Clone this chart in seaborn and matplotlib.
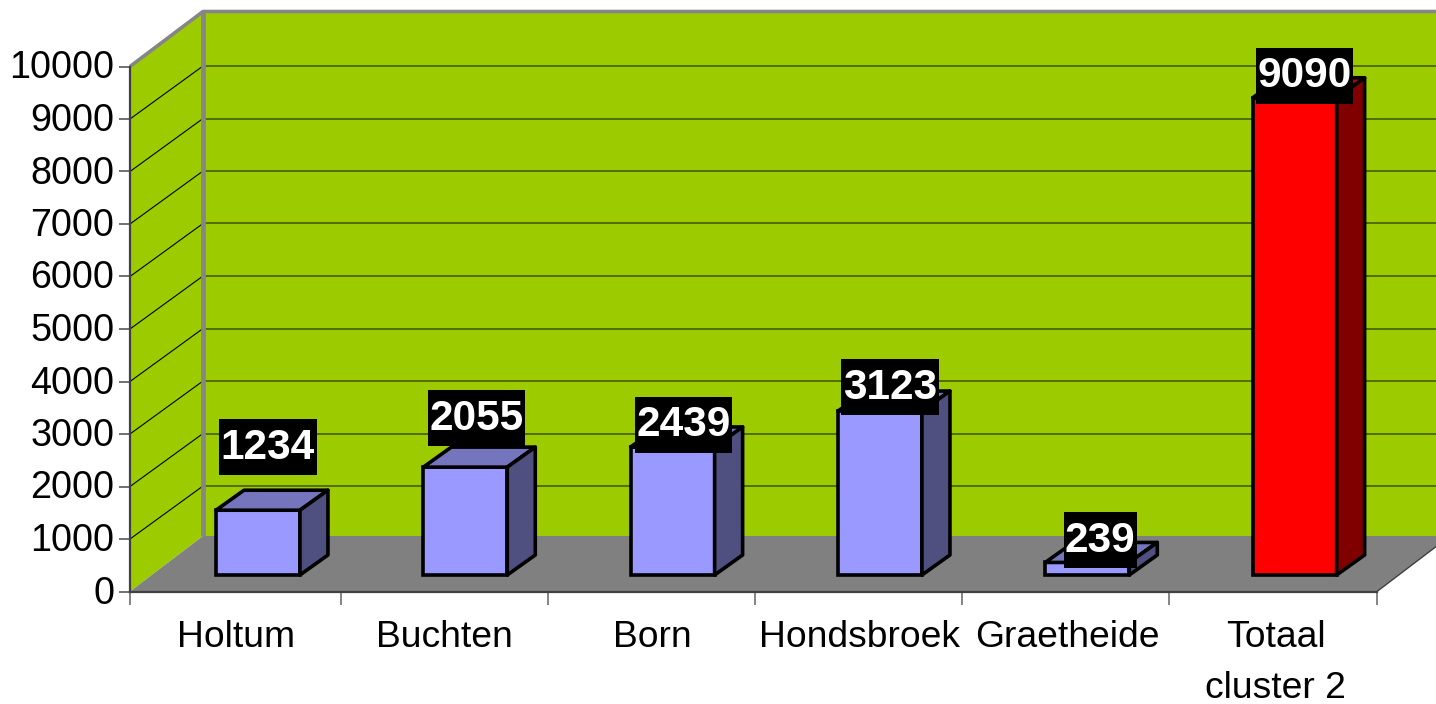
import matplotlib
matplotlib.use("Agg")
import matplotlib.pyplot as plt
import seaborn as sns
from matplotlib.patches import Polygon, Rectangle
from matplotlib.transforms import Affine2D, IdentityTransform

# data
categories = ["Holtum", "Buchten", "Born", "Hondsbroek", "Graetheide", "Totaal\ncluster 2"]
values = [1234, 2055, 2439, 3123, 239, 9090]
bar_colors = ["#9999ff", "#9999ff", "#9999ff", "#9999ff", "#9999ff", "#ff0000"]
top_colors = ["#7575bd", "#7575bd", "#7575bd", "#7575bd", "#7575bd", "#c00000"]
side_colors = ["#4f4f80", "#4f4f80", "#4f4f80", "#4f4f80", "#4f4f80", "#800000"]
y_ticks = list(range(0, 10001, 1000))
x_edges = [-0.5, 0.515, 1.51, 2.505, 3.505, 4.5, 5.5]

# label placement, pixels from the middle of the bar top
label_dx = [10, 11, 11, 10, 13, 10]
label_dy = [63, 49, 22, 24, 22, 22]

W, H = 1436, 704
BACK_X, BACK_Y = 73, 55      # depth of the chart box
FLOOR_BACK_Y = 55.5
GRID_BACK_Y = 53             # grid lines meet the back wall a little lower
DEPTH_X, DEPTH_Y = 28, 20    # depth of each bar
BAR_LW = 2.6
GREEN = "#9ccc00"
FLOOR = "#808080"

sns.set_theme(style="white")
plt.rcParams["font.family"] = ["Liberation Sans", "DejaVu Sans"]

fig = plt.figure(figsize=(W / 100, H / 100), dpi=100, facecolor="white")
ax = fig.add_axes([130 / W, (H - 591.5) / H, 1247 / W, 525 / H])
# bars stand a bit behind the front edge, so they get their own slightly narrower axes
bar_ax = fig.add_axes([154.3 / W, (H - 575) / H, 1244 / W, 525 / H])
ax.set_zorder(1)
bar_ax.set_zorder(2)
ax.patch.set_visible(False)
bar_ax.patch.set_visible(False)

ax.set_xlim(-0.5, 5.5)
ax.set_ylim(0, 10000)


def px(axis, x, y):
    return axis.transData.transform((x, y))


def draw_poly(axis, points, **kw):
    axis.add_patch(Polygon(points, closed=True, transform=IdentityTransform(), clip_on=False, **kw))


def draw_line(points, color, lw, zorder):
    xs = [p[0] for p in points]
    ys = [p[1] for p in points]
    ax.plot(xs, ys, color=color, lw=lw, transform=IdentityTransform(), clip_on=False,
            zorder=zorder, solid_capstyle="butt", scalex=False, scaley=False)


back = (BACK_X, BACK_Y)
grid_back = (BACK_X, GRID_BACK_Y)
floor_back = (BACK_X, FLOOR_BACK_Y)
fl = px(ax, -0.5, 0)
tl = px(ax, -0.5, 10000)
fr = px(ax, 5.5, 0)
bl = fl + floor_back
tb = tl + back
br = fr + floor_back
tr = px(ax, 5.5, 10000) + back

# walls and floor
draw_poly(ax, [bl, tb, tr, br], facecolor=GREEN, edgecolor="none", zorder=0.1)
draw_poly(ax, [fl, tl, tb, bl], facecolor=GREEN, edgecolor="none", zorder=0.1)

# grid, runs along the side wall and then the back wall
for t in y_ticks[1:-1]:
    front = px(ax, -0.5, t)
    draw_line([front, front + grid_back], "black", 0.8, 0.3)
    draw_line([front + grid_back, px(ax, 5.5, t) + grid_back], "#4d6600", 1.3, 0.3)

draw_poly(ax, [fl, bl, br, fr], facecolor=FLOOR, edgecolor="none", zorder=0.4)
draw_line([tl, tb, tr], "#868686", 2.6, 0.5)
draw_line([tb, bl], "#868686", 3.4, 0.5)
draw_line([fr, br], "#404040", 1.0, 0.5)

# bars
sns.barplot(x=categories, y=values, hue=categories, palette=bar_colors, dodge=False,
            width=0.405, saturation=1, legend=False, edgecolor="black", linewidth=BAR_LW,
            ax=bar_ax, zorder=3)
bar_ax.set_xlim(-0.5, 5.5)
bar_ax.set_ylim(0, 10000)
bar_ax.axis("off")

bars = sorted([b for b in bar_ax.patches if b.get_height() > 0], key=lambda b: b.get_x())
depth = (DEPTH_X, DEPTH_Y)
for i, b in enumerate(bars):
    b.set_clip_on(False)
    x0, x1, h = b.get_x(), b.get_x() + b.get_width(), b.get_height()
    p_tl = px(bar_ax, x0, h)
    p_tr = px(bar_ax, x1, h)
    p_br = px(bar_ax, x1, 0)
    line = dict(edgecolor="black", linewidth=BAR_LW, joinstyle="round", zorder=3)
    draw_poly(bar_ax, [p_tl, p_tr, p_tr + depth, p_tl + depth], facecolor=top_colors[i], **line)
    draw_poly(bar_ax, [p_br, p_tr, p_tr + depth, p_br + depth], facecolor=side_colors[i], **line)

    # value label on a black box
    cx, cy = px(bar_ax, x0 + b.get_width() / 2, h) + (label_dx[i], label_dy[i])
    label = str(values[i])
    bw = 24.3 * len(label)
    bar_ax.add_patch(Rectangle((cx - bw / 2, cy - 28), bw, 56, facecolor="black", edgecolor="none",
                               transform=IdentityTransform(), clip_on=False, zorder=5))
    bar_ax.text(cx, cy + 4, label, color="white", fontsize=30.5, fontweight="bold", ha="center",
                va="center_baseline", transform=IdentityTransform(), clip_on=False, zorder=6)

# axes
for side in ["top", "right"]:
    ax.spines[side].set_visible(False)
for side in ["left", "bottom"]:
    ax.spines[side].set_color("#404040")
    ax.spines[side].set_linewidth(1.6)
    ax.spines[side].set_zorder(1)
ax.set_yticks(y_ticks)
ax.set_yticklabels([str(t) for t in y_ticks])
ax.set_xticks(x_edges)
ax.set_xticklabels([])
ax.set_xticks(range(len(categories)), labels=categories, minor=True)
ax.tick_params(axis="y", length=8, width=1.4, color="#707070", labelsize=27.2, labelcolor="black", pad=3.2,
               left=True)
ax.tick_params(axis="x", which="major", length=9, width=1.2, color="#707070", bottom=True)
ax.tick_params(axis="x", which="minor", length=0, labelsize=26.8, labelcolor="black", pad=20.5)
for lab in ax.get_xticklabels(minor=True):
    lab.set_linespacing(1.6)
    lab.set_transform(lab.get_transform() + Affine2D().translate(2.5, 0))
for lab in ax.get_yticklabels():
    lab.set_transform(lab.get_transform() + Affine2D().translate(0, 2))

fig.savefig("out.png", dpi=100)
